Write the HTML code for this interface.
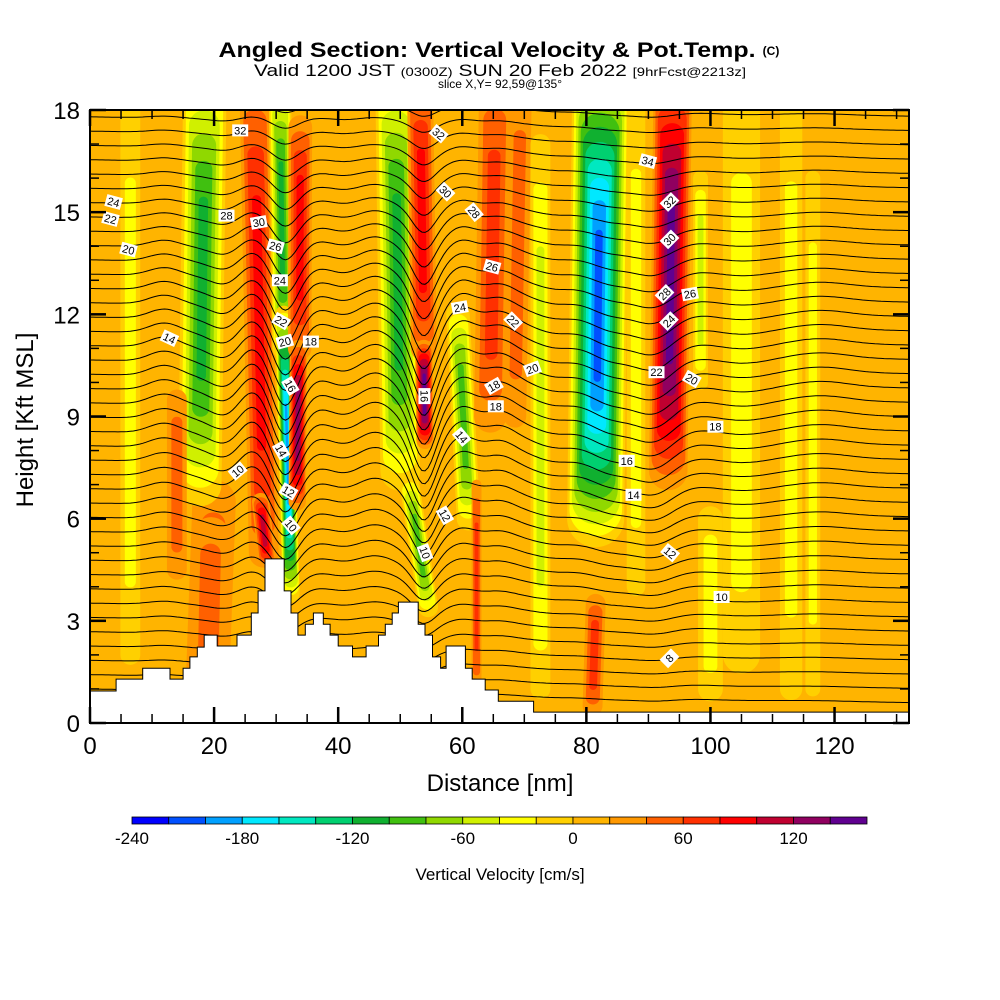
<!DOCTYPE html>
<html><head><meta charset="utf-8"><style>
body{margin:0;background:#fff;}
svg{display:block;font-family:"Liberation Sans",Arial,sans-serif;}
</style></head><body>
<svg id="chart" width="1000" height="1000" viewBox="0 0 1000 1000" xmlns="http://www.w3.org/2000/svg">
<defs><clipPath id="plotclip"><rect x="90" y="110" width="819" height="613"/></clipPath></defs>
<g>
<text x="487" y="57" text-anchor="middle" font-size="21" font-weight="bold" textLength="537" lengthAdjust="spacingAndGlyphs">Angled Section: Vertical Velocity &amp; Pot.Temp.</text>
<text x="771" y="55" text-anchor="middle" font-size="12" font-weight="bold">(C)</text>
<text x="500" y="76" text-anchor="middle" font-size="17" textLength="492" lengthAdjust="spacingAndGlyphs">Valid 1200 JST <tspan font-size="12">(0300Z)</tspan> SUN 20 Feb 2022 <tspan font-size="12">[9hrFcst@2213z]</tspan></text>
<text x="500" y="88" text-anchor="middle" font-size="12">slice X,Y= 92,59@135°</text>
</g>
<g id="field" clip-path="url(#plotclip)">
<rect x="90" y="110" width="819" height="613" fill="#ffb400"/>
</g>
<g id="contours" clip-path="url(#plotclip)"></g>
<g id="terrain"></g>
<g id="labels"></g>
<g id="axes"></g>
<g id="cbar"></g>
</svg>
<script>
// ---- data ----
const palette=['#0000ff','#0050ff','#00a0ff','#00e8ff','#00e8c0','#00d070','#10b030','#40c010','#90d800','#d0f000','#ffff00','#ffd000','#ffb400','#ff9800','#ff6000','#ff3000','#ff0000','#c00030','#900060','#600090'];
const cbarTicks=[-240,-180,-120,-60,0,60,120];
const xTicks=[0,20,40,60,80,100,120];
const yTicks=[0,3,6,9,12,15,18];
// features: xTop(nm), zTop(kft), xBot(nm), zBot(kft), halfWidth(nm), peak velocity (cm/s)
const featXTop=[6.5,113,116.5,105,20,18.5,26.5,30.6,31.2,33.9,33.6,49.2,53.2,53.8,59.3,51.5,65.3,62.3,69.4,72.6,82.3,93.9,98.4,81.5,19.5,27.5,14,100,88];
const featZTop=[18,18,16,18,6.5,18.5,18.5,18.5,12,17.5,11,18.5,18.5,11,12,7,18.5,7,18.5,17,18.5,18.5,16,3.5,5.5,6.5,9.5,6,18];
const featXBot=[6.5,113,116.5,105,19,17.7,28,31.2,32.4,33.8,33.4,50,53.8,54,61,54.5,64.5,62.3,68.5,72.6,81.5,93.2,98.4,81,19,28.5,14,100,88];
const featZBot=[2,1,1,2,1.5,7,5,11,3.8,11,6.5,7.4,11,8.3,6,3.4,9,1,9,1,6,7.4,10,0.5,1.5,4.8,4.5,1,4];
const featHW=[1.6,1.8,1.2,3,3.5,3.5,2.4,1.8,1.4,1.9,1.4,3.2,2.1,1.4,1.9,1.6,2.6,0.8,1.8,1.6,4.6,3.1,1.2,1.6,3,1.4,1.6,2,1.5];
const featPeak=[-25,-25,-25,-25,50,-115,85,-110,-180,90,130,-110,95,140,-95,-85,70,65,50,-55,-205,140,-45,65,45,105,40,-25,-25];
// terrain steps: start distance (nm), height (kft)
const terrX=[0,4.2,8.5,12.9,15,16.1,17.3,18.4,20.5,23.7,26,27.1,28.2,31.3,32.4,33.5,34.7,36,37.6,38.7,40,42.3,44.5,46.5,47.6,48.7,49.7,52.9,54,55.2,56.5,57.4,60.5,61.6,63.7,65.8,71.5];
const terrZ=[0.94,1.29,1.61,1.29,1.61,1.94,2.23,2.58,2.26,2.58,3.23,3.88,4.82,3.88,3.23,2.58,2.9,3.23,2.9,2.58,2.26,1.94,2.26,2.58,2.9,3.23,3.55,2.9,2.58,1.94,1.61,2.26,1.61,1.29,0.97,0.64,0.32];
// theta contour waves: center (nm), amplitude (kft), width (nm)
const waveX=[12,22,26,31.5,37,46,53.8,60,66,75,84,91,105,118];
const waveA=[0.3,-0.35,0.5,-1.3,0.35,0.6,-1.5,0.5,0.4,-0.25,-0.6,-0.8,-0.2,0.15];
const waveW=[3.5,3.5,3,2.8,3.5,4,2.6,3,3.5,4,5,4.5,6,6];
const nLines=42;
const lineBaseLeft=1.0, lineBaseRight=0.6, lineStep=0.42;
// contour labels: distance, height, text, angle
const labX=[3.8,3.3,6.2,12.8,24.2,22,27.2,29.9,30.6,30.8,31.4,32.3,35.6,30.8,32,32.4,23.8,56.2,57.3,61.9,53.9,59.9,57.2,54,64.8,59.6,68.2,71.3,65.1,65.4,89.9,93.4,93.4,92.6,96.7,93.3,91.3,97,100.8,86.5,87.6,93.5,101.8,93.4];
const labZ=[15.3,14.8,13.9,11.3,17.4,14.9,14.7,14.0,13.0,11.8,11.2,9.9,11.2,8.0,6.8,5.8,7.4,17.3,15.6,15.0,9.6,8.4,6.1,5.0,13.4,12.2,11.8,10.4,9.9,9.3,16.5,15.3,14.2,12.6,12.6,11.8,10.3,10.1,8.7,7.7,6.7,5.0,3.7,1.9];
const labT=['24','22','20','14','32','28','30','26','24','22','20','16','18','14','12','10','10','32','30','28','16','14','12','10','26','24','22','20','18','18','34','32','30','28','26','24','22','20','18','16','14','12','10','8'];
const labR=[15,15,15,25,0,0,-10,15,0,30,-15,60,0,60,30,50,-40,40,45,50,90,50,60,70,15,-10,45,-20,-30,0,15,-45,-45,-45,-10,-45,0,30,0,0,0,40,0,-45];
// ---- scales ----
const X0=90,X1=909,Y0=723,Y1=110;
const px=x=>X0+x*(X1-X0)/132;
const py=z=>Y0-z*(Y0-Y1)/18;
const NS='http://www.w3.org/2000/svg';
function mk(tag,attrs,parent){const e=document.createElementNS(NS,tag);for(const k in attrs)e.setAttribute(k,attrs[k]);parent.appendChild(e);return e;}
// ---- field ----
const field=document.getElementById('field');
featPeak.forEach((v,i)=>{
  const kmax=Math.floor(Math.abs(v)/20);
  const kstart=v<0?0:1;
  for(let k=kstart;k<=kmax;k++){
    const f=v<0?(kmax+1-k)/(kmax+1):(kmax+1-k)/(kmax);
    const w=featHW[i]*Math.pow(f,0.85);
    const s=Math.pow(f,0.45);
    const a=0.5*(1-s),b=1-a;
    const xa=featXTop[i]+(featXBot[i]-featXTop[i])*a, za=featZTop[i]+(featZBot[i]-featZTop[i])*a;
    const xb=featXTop[i]+(featXBot[i]-featXTop[i])*b, zb=featZTop[i]+(featZBot[i]-featZTop[i])*b;
    const col=v<0?palette[11-k]:palette[12+k];
    const l=mk('line',{x1:px(xa),y1:py(za),x2:px(xb),y2:py(zb),stroke:col,'stroke-width':2*w*(X1-X0)/132,'stroke-linecap':'round'},field);
    
    
  }
});
// ---- contours ----
const cont=document.getElementById('contours');
function waveAt(x,z){let d=0;for(let j=0;j<waveX.length;j++){d+=waveA[j]*Math.exp(-Math.pow((x-waveX[j])/waveW[j],2))*Math.exp(-Math.pow((z-10)/6,2));}return d;}
for(let i=0;i<nLines;i++){
  const zl=lineBaseLeft+i*lineStep, zr=lineBaseRight+i*lineStep;
  let d='';
  for(let x=0;x<=132;x+=0.5){const zb=zl+(zr-zl)*x/132;const z=zb+waveAt(x,zb);d+=(x===0?'M':'L')+px(x).toFixed(1)+','+py(z).toFixed(1);}
  const p=mk('path',{d:d,fill:'none',stroke:'#000','stroke-width':1},cont);
  
  
}
// ---- terrain ----
const ter=document.getElementById('terrain');
let td='M'+px(0)+','+py(0);
for(let i=0;i<terrX.length;i++){const xe=i+1<terrX.length?terrX[i+1]:132;td+='L'+px(terrX[i]).toFixed(1)+','+py(terrZ[i]).toFixed(1)+'L'+px(xe).toFixed(1)+','+py(terrZ[i]).toFixed(1);}
td+='L'+px(132)+','+py(0)+'Z';
const tp=mk('path',{d:td,fill:'#fff',stroke:'#000','stroke-width':1},ter);


// ---- labels ----
const lab=document.getElementById('labels');
for(let i=0;i<labT.length;i++){
  const g=mk('g',{transform:`translate(${px(labX[i]).toFixed(1)},${py(labZ[i]).toFixed(1)}) rotate(${labR[i]})`},lab);
  
  
  mk('rect',{x:-8,y:-6,width:16,height:12,fill:'#fff'},g);
  const t=mk('text',{x:0,y:4,'text-anchor':'middle','font-size':11},g);t.textContent=labT[i];
}
// ---- axes ----
const ax=document.getElementById('axes');
const fr=mk('rect',{x:X0,y:Y1,width:X1-X0,height:Y0-Y1,fill:'none',stroke:'#000','stroke-width':2},ax);


for(let x=0;x<=130;x+=5){
  const major=x%20===0, L=major?16:9;
  mk('line',{x1:px(x),y1:Y0,x2:px(x),y2:Y0-L,stroke:'#000','stroke-width':major?2.5:1.5},ax);
  mk('line',{x1:px(x),y1:Y1,x2:px(x),y2:Y1+L,stroke:'#000','stroke-width':major?2.5:1.5},ax);
}
for(let z=0;z<=18;z+=1){
  const major=z%3===0, L=major?16:9;
  mk('line',{x1:X0,y1:py(z),x2:X0+L,y2:py(z),stroke:'#000','stroke-width':major?2.5:1.5},ax);
  mk('line',{x1:X1,y1:py(z),x2:X1-L,y2:py(z),stroke:'#000','stroke-width':major?2.5:1.5},ax);
}
xTicks.forEach(x=>{const t=mk('text',{x:px(x),y:754,'text-anchor':'middle','font-size':24},ax);t.textContent=x;
  });
yTicks.forEach(z=>{const t=mk('text',{x:80,y:py(z)+9,'text-anchor':'end','font-size':24},ax);t.textContent=z;
  });
const xt=mk('text',{x:500,y:791,'text-anchor':'middle','font-size':24},ax);xt.textContent='Distance [nm]';

const yt=mk('text',{x:0,y:0,'text-anchor':'middle','font-size':24,transform:'translate(33,420) rotate(-90)'},ax);yt.textContent='Height [Kft MSL]';

// ---- colorbar ----
const cb=document.getElementById('cbar');
const CB0=132,CB1=867,bw=(CB1-CB0)/palette.length;
palette.forEach((c,i)=>{const r=mk('rect',{x:CB0+i*bw,y:817,width:bw,height:7,fill:c,stroke:'#000','stroke-width':0.8},cb);
  });
cbarTicks.forEach(v=>{const t=mk('text',{x:CB0+(v+240)/20*bw,y:844,'text-anchor':'middle','font-size':17},cb);t.textContent=v;
  });
const ct=mk('text',{x:500,y:880,'text-anchor':'middle','font-size':17},cb);ct.textContent='Vertical Velocity [cm/s]';

</script>
</body></html>
